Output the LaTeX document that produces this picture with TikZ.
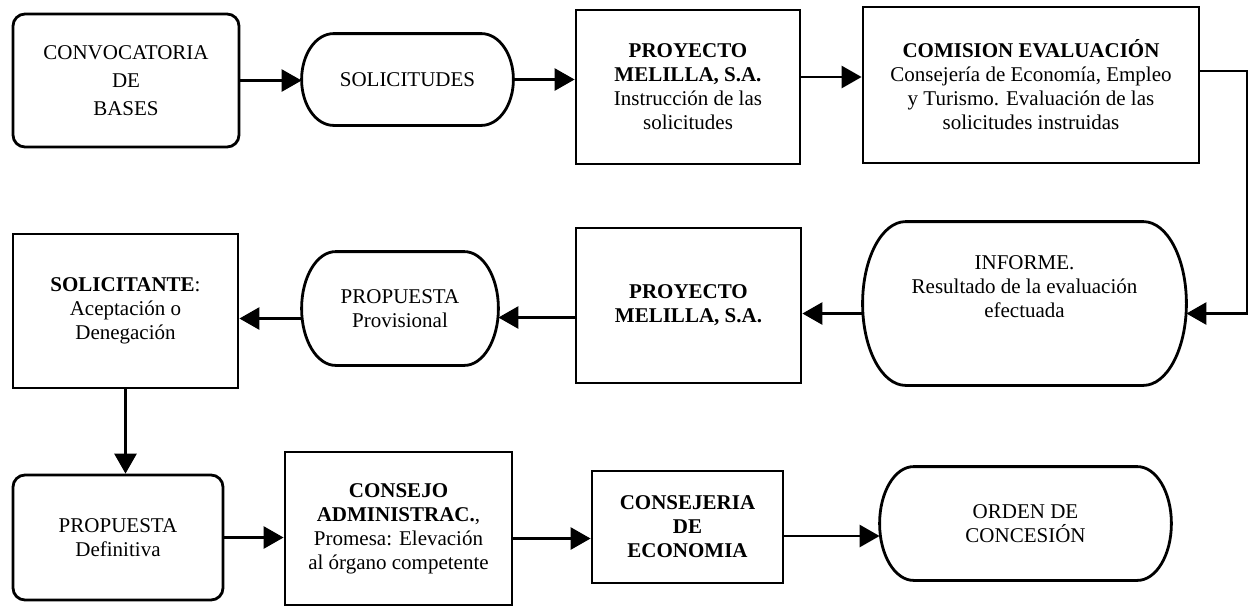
\documentclass[tikz,border=0pt]{standalone}
\usepackage{fontspec}
\setmainfont{Liberation Serif}
\usetikzlibrary{shapes, arrows.meta, positioning, calc}
\tikzset{%
>={Triangle[width=11pt,length=10pt]},
% Specifications for style of nodes:
base/.style = {draw, text centered, inner sep=2pt},
terminal/.style = {base, draw=none, rectangle,
    append after command={\pgfextra{%
        \draw let \p1=(\tikzlastnode.north), \p2=(\tikzlastnode.south), \n1={(\y1-\y2)/2} in
            ([xshift=#1]\tikzlastnode.north west) -- ([xshift=-#1]\tikzlastnode.north east)
            arc[start angle=90, end angle=-90, x radius=#1, y radius=\n1]
            -- ([xshift=#1]\tikzlastnode.south west)
            arc[start angle=270, end angle=90, x radius=#1, y radius=\n1] -- cycle;}}},
terminal/.default = 17pt,
process/.style = {base, rectangle},
roundprocess/.style = {base, rectangle, rounded corners=6pt},
}

\begin{document}
\begin{tikzpicture}[
        x=0.5pt, y=-0.5pt,
        line width=1.4pt,
        every node/.style={font=\fontsize{10.5}{12}\selectfont},
        align=center
    ]
    \useasboundingbox (0,0) rectangle (1249,607);
    % First row
    \node (convocatoria) [roundprocess, minimum width=113pt, minimum height=66.5pt, font=\fontsize{10.5}{14}\selectfont] at (126,80.5) {CONVOCATORIA\\DE\\BASES};
    \node (solicitudes) [terminal=16pt, minimum width=104.5pt, minimum height=44.5pt] at (407.5,79.5) {SOLICITUDES};
    \node (proyectoA) [process, minimum width=112pt, minimum height=77pt] at (688,87) {\textbf{PROYECTO}\\\textbf{MELILLA, S.A.}\\Instrucción de las\\solicitudes};
    \node (comision) [process, minimum width=168pt, minimum height=78pt] at (1031,85) {\textbf{COMISION EVALUACIÓN}\\Consejería de Economía, Empleo\\y Turismo. Evaluación de las\\solicitudes instruidas};
    % Second row
    \node (informe) [terminal=21.5pt, minimum width=160.5pt, minimum height=80.5pt, text depth=17pt] at (1024.5,303.5) {INFORME.\\Resultado de la evaluación\\efectuada};
    \node (proyectoB) [process, minimum width=112.5pt, minimum height=77.5pt] at (688.5,305.5) {\textbf{PROYECTO}\\\textbf{MELILLA, S.A.}};
    \node (provisional) [terminal, minimum width=97pt, minimum height=55.5pt] at (400,308.5) {PROPUESTA\\Provisional};
    \node (solicitante) [process, minimum width=112.5pt, minimum height=77pt] at (125.5,311) {\textbf{SOLICITANTE}:\\Aceptación o\\Denegación};
    % Third row
    \node (definitiva) [roundprocess, minimum width=105pt, minimum height=62.5pt] at (118,537.5) {PROPUESTA\\Definitiva};
    \node (consejo) [process, minimum width=113.5pt, minimum height=76.5pt] at (398.5,528.5) {\textbf{CONSEJO}\\\textbf{ADMINISTRAC.},\\Promesa: Elevación\\al órgano competente};
    \node (consejeria) [process, minimum width=95.5pt, minimum height=56pt] at (687.5,527) {\textbf{CONSEJERIA}\\\textbf{DE}\\\textbf{ECONOMIA}};
    \node (orden) [terminal, minimum width=144.5pt, minimum height=55.5pt] at (1025.5,523.5) {ORDEN DE\\CONCESIÓN};

    \coordinate (turn) at (1247,0);
    \coordinate (informeIn) at ([yshift=-5pt]informe.east);

    \draw [->] (convocatoria.east) -- (convocatoria.east -| solicitudes.west);
    \draw [->] (solicitudes.east) -- (solicitudes.east -| proyectoA.west);
    \draw [->] ([yshift=5pt]proyectoA.east) -- ([yshift=5pt]proyectoA.east -| comision.west);
    \draw [->] ([yshift=7pt]comision.east) -| (turn |- informeIn) -- (informeIn);
    \draw [->] ([yshift=-5pt]informe.west) -- ([yshift=-5pt]informe.west -| proyectoB.east);
    \draw [->] ([yshift=-6pt]proyectoB.west) -- ([yshift=-6pt]proyectoB.west -| provisional.east);
    \draw [->] ([yshift=-5pt]provisional.west) -- ([yshift=-5pt]provisional.west -| solicitante.east);
    \draw [->] (solicitante.south) -- (solicitante.south |- definitiva.north);
    \draw [->] (definitiva.east) -- (definitiva.east -| consejo.west);
    \draw [->] ([yshift=-5pt]consejo.east) -- ([yshift=-5pt]consejo.east -| consejeria.west);
    \draw [->] ([yshift=-4.5pt]consejeria.east) -- ([yshift=-4.5pt]consejeria.east -| orden.west);
\end{tikzpicture}
\end{document}
